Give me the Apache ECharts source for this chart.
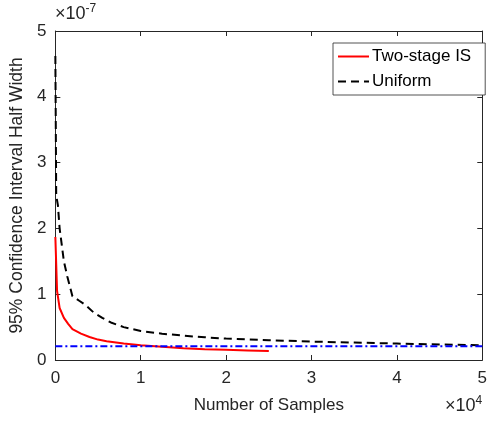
<!DOCTYPE html>
<html>
<head>
<meta charset="utf-8">
<script src="https://cdn.jsdelivr.net/npm/echarts@6/dist/echarts.min.js"></script>
<style>
  html, body { margin: 0; padding: 0; background: #fff; }
  #chart { width: 490px; height: 421px; }
</style>
</head>
<body>
<div id="chart"></div>
<script>
// widths are in units of 1e-7, sample counts as is
var isSamples = [0, 200, 500, 1000, 1500, 2000, 3000, 4000, 5000, 6000, 8000, 10000, 12500, 15000, 17500, 20000, 22500, 25000];
var isWidth = [1.87, 1.05, 0.79, 0.64, 0.55, 0.47, 0.40, 0.35, 0.31, 0.285, 0.25, 0.225, 0.2, 0.18, 0.165, 0.155, 0.145, 0.135];

var uniSamples = [0, 100, 300, 500, 1000, 1400, 2000, 2800, 3500, 4500, 5500, 6500, 8000, 10000, 12500, 15000, 17500, 20000, 25000, 30000, 35000, 40000, 45000, 50000];
var uniWidth = [4.62, 2.5, 2.35, 2.0, 1.5, 1.27, 0.97, 0.9, 0.84, 0.72, 0.64, 0.57, 0.5, 0.44, 0.40, 0.37, 0.345, 0.325, 0.30, 0.28, 0.265, 0.25, 0.235, 0.225];

var refSamples = [0, 50000];
var refWidth = [0.21, 0.21];

function pairs(xs, ys) {
    var out = [];
    for (var i = 0; i < xs.length; i++) out.push([xs[i], ys[i]]);
    return out;
}

var txt = '#262626';
var font = '"Liberation Sans", Arial, sans-serif';
var axisLine = { show: true, onZero: false, lineStyle: { color: txt, width: 1 } };
var tickIn = { show: true, inside: true, length: 5, lineStyle: { color: txt } };

var myChart = echarts.init(document.getElementById('chart'));
var option = {
    backgroundColor: '#fff',
    animation: false,
    grid: { left: 54, right: 2, top: 31, bottom: 61 },
    legend: {
        data: ['Two-stage IS', 'Uniform'],
        orient: 'vertical',
        left: 333, top: 43,
        padding: [5, 14, 5, 4],
        itemWidth: 31, itemHeight: 10, itemGap: 8,
        borderColor: txt, borderWidth: 0.8,
        backgroundColor: '#fff',
        itemStyle: { opacity: 0 },
        textStyle: { color: '#000', fontSize: 17, fontFamily: font, padding: [0, 0, 0, -2] }
    },
    xAxis: [{
        type: 'value', min: 0, max: 50000, interval: 10000,
        name: 'Number of Samples', nameLocation: 'middle', nameGap: 37,
        nameTextStyle: { color: txt, fontSize: 17, fontFamily: font },
        axisLine: axisLine, axisTick: tickIn, splitLine: { show: false },
        axisLabel: { color: txt, fontSize: 17, fontFamily: font, margin: 10,
            formatter: function (v) { return String(Math.round(v / 10000)); } }
    }, {
        type: 'value', position: 'top', min: 0, max: 50000, interval: 10000,
        axisLine: axisLine, axisTick: tickIn, axisLabel: { show: false }, splitLine: { show: false }
    }],
    yAxis: [{
        type: 'value', min: 0, max: 5, interval: 1,
        name: '95% Confidence Interval Half Width', nameLocation: 'middle', nameGap: 26,
        nameTextStyle: { color: txt, fontSize: 17.5, fontFamily: font },
        axisLine: axisLine, axisTick: tickIn, splitLine: { show: false },
        axisLabel: { color: txt, fontSize: 17, fontFamily: font, margin: 9 }
    }, {
        type: 'value', position: 'right', min: 0, max: 5, interval: 1,
        axisLine: axisLine, axisTick: tickIn, axisLabel: { show: false }, splitLine: { show: false }
    }],
    series: [{
        name: 'Two-stage IS', type: 'line', symbol: 'none',
        data: pairs(isSamples, isWidth),
        lineStyle: { color: '#ff0000', width: 2 },
        itemStyle: { color: '#ff0000' }
    }, {
        name: 'Uniform', type: 'line', symbol: 'none',
        data: pairs(uniSamples, uniWidth),
        lineStyle: { color: '#000', width: 2, type: [8, 5] },
        itemStyle: { color: '#000' }
    }, {
        name: 'reference', type: 'line', symbol: 'none',
        data: pairs(refSamples, refWidth),
        lineStyle: { color: '#0000ff', width: 2, type: [7, 3, 2, 3] },
        itemStyle: { color: '#0000ff' }
    }],
    graphic: [{
        type: 'text', left: 55, top: 3,
        style: {
            text: '{m|×10}{s|-7}', fill: txt,
            rich: {
                m: { fontSize: 18, fontFamily: font, fill: txt, verticalAlign: 'bottom' },
                s: { fontSize: 12, fontFamily: font, fill: txt, verticalAlign: 'top', padding: [0, 0, 8, 0] }
            }
        }
    }, {
        type: 'text', left: 445, top: 395,
        style: {
            text: '{m|×10}{s|4}', fill: txt,
            rich: {
                m: { fontSize: 18, fontFamily: font, fill: txt, verticalAlign: 'bottom' },
                s: { fontSize: 12, fontFamily: font, fill: txt, verticalAlign: 'top', padding: [0, 0, 8, 0] }
            }
        }
    }]
};
myChart.setOption(option);
</script>
</body>
</html>
